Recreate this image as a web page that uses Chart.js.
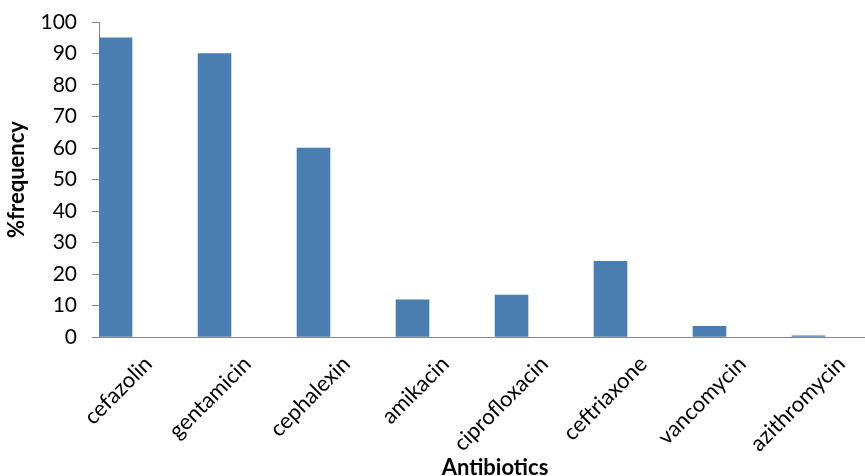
<!DOCTYPE html>
<html>
<head>
<meta charset="utf-8">
<script src="https://cdn.jsdelivr.net/npm/chart.js@4.4.0/dist/chart.umd.min.js"></script>
<style>
  html, body { margin: 0; padding: 0; background: #fff; overflow: hidden; width: 865px; height: 476px; }
  #wrap { position: relative; width: 892px; height: 485px; }
</style>
</head>
<body>
<div id="wrap"><canvas id="chart"></canvas></div>
<script>
// categories and values
const antibiotics = ['cefazolin', 'gentamicin', 'cephalexin', 'amikacin', 'ciprofloxacin', 'ceftriaxone', 'vancomycin', 'azithromycin'];
const frequency = [95, 90, 60, 11.8, 13.3, 24, 3.4, 0.4];
const yTicks = [0, 10, 20, 30, 40, 50, 60, 70, 80, 90, 100];

const FONT = 'Lato, "Open Sans", sans-serif';
const AXIS = '#868686';

// the original sheet had empty series next to the data, so each bar sits
// in the left third of its category; two empty datasets keep that spacing
const empty1 = [];
const empty2 = [];

new Chart(document.getElementById('chart'), {
    type: 'bar',
    data: {
        labels: antibiotics,
        datasets: [
            { label: '%frequency', data: frequency, backgroundColor: '#4a7eb1', borderWidth: 0 },
            { label: '', data: empty1 },
            { label: '', data: empty2 }
        ]
    },
    options: {
        responsive: true,
        maintainAspectRatio: false,
        animation: false,
        events: [],
        categoryPercentage: 1,
        barPercentage: 1,
        layout: { padding: { left: 4, right: 1, top: 0, bottom: 0 } },
        plugins: { legend: { display: false }, tooltip: { enabled: false } },
        scales: {
            x: {
                grid: { display: false, drawTicks: false },
                border: { display: true, color: AXIS, width: 1 },
                ticks: {
                    color: '#000',
                    font: { family: FONT, size: 22 },
                    minRotation: 45, maxRotation: 45,
                    autoSkip: false,
                    padding: 14
                },
                title: {
                    display: true, text: 'Antibiotics', color: '#000',
                    font: { family: FONT, size: 22, weight: 'bold' },
                    padding: { top: 0, bottom: 4 }
                },
                afterFit: function(scale) { scale.height = 148; }
            },
            y: {
                min: 0, max: 100,
                afterBuildTicks: function(scale) { scale.ticks = yTicks.map(v => ({ value: v })); },
                grid: { drawOnChartArea: false, drawTicks: true, tickLength: 7, color: AXIS },
                border: { display: true, color: AXIS, width: 1 },
                ticks: { color: '#000', font: { family: FONT, size: 21 }, padding: 15 },
                title: {
                    display: true, text: '%frequency', color: '#000',
                    font: { family: FONT, size: 22, weight: 'bold' },
                    padding: { top: 0, bottom: 0 }
                },
                afterFit: function(scale) {
                    scale.width = 95;
                    scale.paddingTop = 22;
                }
            }
        }
    }
});
</script>
</body>
</html>
